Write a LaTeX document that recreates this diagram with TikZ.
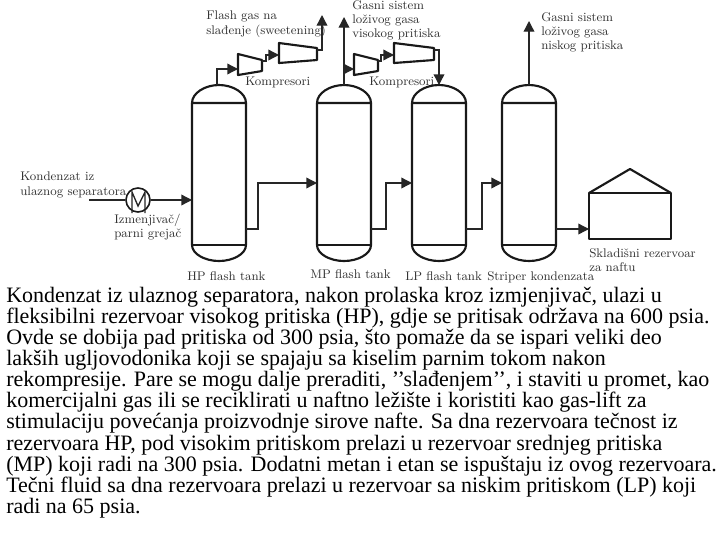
\documentclass[tikz,border=0pt]{standalone}
\usepackage{fontspec}
\newfontfamily\bodyfont{Liberation Serif}
\usetikzlibrary{arrows.meta}
\tikzset{
  x=0.75pt,y=-0.75pt,
  vessel/.style={draw=black!90,line width=1.6pt,line join=round},
  exchanger/.style={circle,draw=black!90,line width=1.2pt,minimum size=18pt,inner sep=0pt},
  pipe/.style={draw=black!85,line width=1pt},
  arrowpipe/.style={pipe,-{Triangle[length=8pt,width=8pt]}},
  lbl/.style={inner sep=0pt,anchor=north west,align=left,text=black!80,font=\fontsize{9.4}{10.6}\selectfont},
  body/.style={inner sep=0pt,anchor=north west,align=left,text=black,font=\bodyfont\fontsize{16.5}{15.8}\selectfont}
}
\newcommand{\tankshape}[2]{% name, left x
  \pgfmathsetmacro{\xl}{#2}\pgfmathsetmacro{\xr}{#2+54}\pgfmathsetmacro{\xc}{#2+27}
  \coordinate (#1 top) at (\xc,85);
  \coordinate (#1 in) at (\xl,183);
  \coordinate (#1 out) at (\xr,229);
  \draw[vessel] (\xl,103) .. controls (\xl,93) and (\xc-14,85) .. (\xc,85) .. controls (\xc+14,85) and (\xr,93) .. (\xr,103) -- cycle;
  \draw[vessel] (\xl,103) -- (\xl,245) .. controls (\xl,254) and (\xc-14,261) .. (\xc,261) .. controls (\xc+14,261) and (\xr,254) .. (\xr,245) -- (\xr,103);
  \draw[vessel] (\xl,245) -- (\xr,245);
}
\newcommand{\compshape}[3]{% name, left x, width
  \pgfmathsetmacro{\xr}{#2+#3}
  \ifnum#3>30
    \draw[vessel] (#2,43) -- (\xr,48) -- (\xr,60) -- (#2,63) -- cycle;
    \coordinate (#1 in) at (#2,54);
    \coordinate (#1 out) at (\xr,50);
  \else
    \draw[vessel] (#2,54) -- (\xr,60) -- (\xr,71) -- (#2,75) -- cycle;
    \coordinate (#1 in) at (#2,69);
    \coordinate (#1 out) at (\xr,61);
  \fi
}
\begin{document}
\begin{tikzpicture}
\clip (0,0) rectangle (720,540);
\fill[white] (0,0) rectangle (720,540);

\tankshape{hp}{192}
\tankshape{mp}{317}
\tankshape{lp}{412}
\tankshape{st}{502}

\compshape{c1}{238}{24}
\compshape{c2}{279}{38}
\compshape{c3}{354}{24}
\compshape{c4}{394}{40}

% storage tank
\draw[vessel] (589,193) rectangle (671,239);
\draw[vessel] (589,193) -- (630,169) -- (671,193);
\coordinate (storein) at (589,229);

% heat exchanger
\coordinate (feed) at (89,200);
\node[exchanger] (hx) at (138,200) {};
\draw[pipe] (132,213) -- (132,192) -- (138,206) -- (145,192) -- (145,213);

% feed
\draw[pipe] (feed) -- (hx);
\draw[arrowpipe] (hx.east) -- (hp in |- hx.east);

% liquid lines
\draw[arrowpipe] (hp out) -- (258,229) -- (258,183) -- (mp in);
\draw[arrowpipe] (mp out) -- (386,229) -- (386,183) -- (lp in);
\draw[arrowpipe] (lp out) -- (482,229) -- (482,183) -- (st in);
\draw[arrowpipe] (st out) -- (storein);

% gas lines
\coordinate (hpgas) at (217,85);
\draw[arrowpipe] (hpgas) |- (c1 in);
\draw[arrowpipe] (c1 out) -- (266,61) -- (266,55) -- (c2 in |- 0,55);
\draw[arrowpipe] (c2 out) -- (322,50) -- (322,15);
\draw[arrowpipe] (mp top) -- (344,17);
\coordinate (mpbranch) at (344,69);
\draw[arrowpipe] (mpbranch) -- (c3 in);
\draw[arrowpipe] (c3 out) -- (381,61) -- (381,55) -- (c4 in |- 0,55);
\draw[arrowpipe] (c4 out) -- (439,50) -- (lp top);
\draw[arrowpipe] (st top) -- (st top |- 0,21);

% labels
\node[lbl] (l1) at (206,11) {Flash gas na\\slađenje (sweetening)};
\node[lbl] (l2) at (352,0) {Gasni sistem\\loživog gasa\\visokog pritiska};
\node[lbl] (l3) at (541,12) {Gasni sistem\\loživog gasa\\niskog pritiska};
\node[lbl] (l4) at (245,77) {Kompresori};
\node[lbl] (l5) at (369,77) {Kompresori};
\node[lbl] (l6) at (20,172) {Kondenzat iz\\ulaznog separatora};
\node[lbl] (l7) at (114,214) {Izmenjivač/\\parni grejač};
\node[lbl] (l8) at (187,271) {HP flash tank};
\node[lbl] (l9) at (310,269) {MP flash tank};
\node[lbl] (l10) at (405,271) {LP flash tank};
\node[lbl] (l11) at (487,271) {Striper kondenzata};
\node[lbl] (l12) at (589,248) {Skladišni rezervoar\\za naftu};

% body
\node[body] (txt) at (6,287) {Kondenzat iz ulaznog separatora, nakon prolaska kroz izmjenjivač, ulazi u\\
fleksibilni rezervoar visokog pritiska (HP), gdje se pritisak održava na 600 psia.\\
Ovde se dobija pad pritiska od 300 psia, što pomaže da se ispari veliki deo\\
lakših ugljovodonika koji se spajaju sa kiselim parnim tokom nakon\\
rekompresije. Pare se mogu dalje preraditi, ’’slađenjem’’, i staviti u promet, kao\\
komercijalni gas ili se reciklirati u naftno ležište i koristiti kao gas-lift za\\
stimulaciju povećanja proizvodnje sirove nafte. Sa dna rezervoara tečnost iz\\
rezervoara HP, pod visokim pritiskom prelazi u rezervoar srednjeg pritiska\\
(MP) koji radi na 300 psia. Dodatni metan i etan se ispuštaju iz ovog rezervoara.\\
Tečni fluid sa dna rezervoara prelazi u rezervoar sa niskim pritiskom (LP) koji\\
radi na 65 psia.};
\end{tikzpicture}
\end{document}
